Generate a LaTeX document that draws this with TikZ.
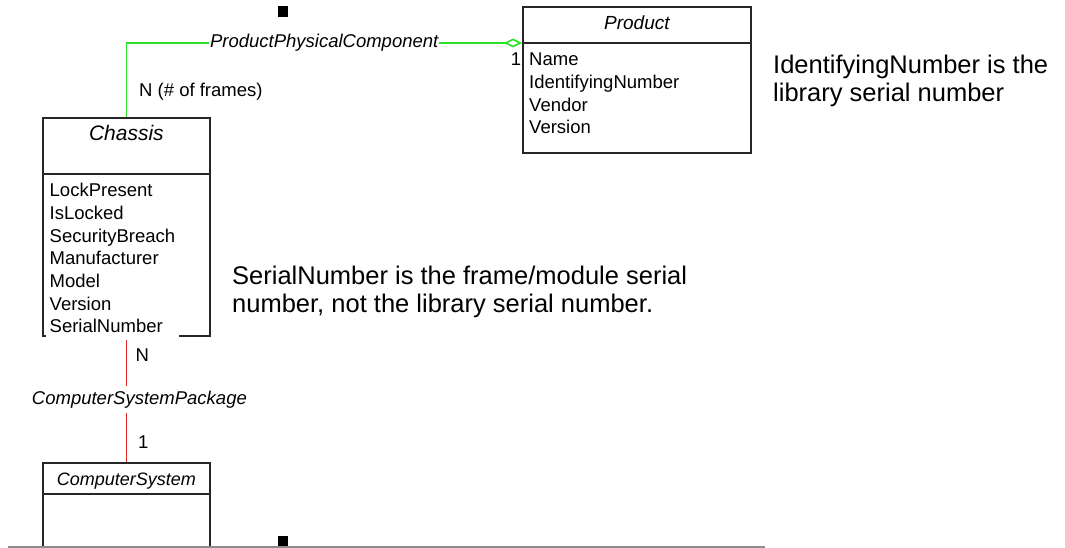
\documentclass[tikz,border=0pt]{standalone}
\usepackage{fontspec}
\setmainfont{Liberation Sans}
\usetikzlibrary{arrows.meta,positioning}
\definecolor{linkgreen}{RGB}{40,225,40}
\definecolor{linkred}{RGB}{225,40,40}

\begin{document}
\begin{tikzpicture}[x=1pt, y=-1pt,
    classbox/.style={draw=black!85, line width=1.8pt, rectangle, inner sep=0pt, anchor=north west},
    divider/.style={draw=black!85, line width=1.8pt},
    classname/.style={font=\fontsize{#1}{#1}\selectfont\itshape, inner sep=0pt, text depth=0pt},
    attr/.style={font=\fontsize{18.5}{18.5}\selectfont, inner sep=0pt, text height=13.5pt, text depth=4.5pt},
    assoc/.style={font=\fontsize{18.5}{18.5}\selectfont\itshape, fill=white, inner xsep=1pt, inner ysep=5pt},
    mult/.style={font=\fontsize{18.5}{18.5}\selectfont, inner sep=0pt, text height=13.2pt, text depth=0pt},
    note/.style={font=\fontsize{25.5}{27.5}\selectfont, align=left, inner sep=0pt, anchor=north west},
    handle/.style={fill=black, inner sep=0pt, minimum width=10pt, minimum height=11pt},
    aggr/.style={-{Diamond[open, length=18pt, width=9pt]}, line width=1.6pt, draw=linkgreen},
    pkg/.style={line width=1.6pt, draw=linkred}
]
\useasboundingbox (0,0) rectangle (1065,548);

% Classes
\node[classbox, minimum width=167pt, minimum height=218pt] (chassis) at (42,117) {};
\node[classbox, minimum width=228pt, minimum height=146pt] (product) at (522,6) {};
\node[classbox, below=125pt of chassis, anchor=north, minimum width=167pt, minimum height=84pt] (compsys) {};

% Compartments
\coordinate (chassis-div) at ([yshift=-57pt]chassis.north west);
\coordinate (product-div) at ([yshift=-37pt]product.north west);
\coordinate (compsys-div) at ([yshift=-32pt]compsys.north west);
\draw[divider] (chassis-div) -- ([yshift=-57pt]chassis.north east);
\draw[divider] (product-div) -- ([yshift=-37pt]product.north east);
\draw[divider] (compsys-div) -- ([yshift=-32pt]compsys.north east);

% open bottom edge of Chassis
\fill[white] ([xshift=4pt, yshift=2pt]chassis.south west) rectangle ([xshift=-32pt, yshift=-2pt]chassis.south east);

% Class names
\node[classname=21] (chassis-name) at ([yshift=-16pt]chassis.north) {Chassis};
\node[classname=19] (product-name) at ([yshift=-17pt]product.north) {Product};
\node[classname=18] (compsys-name) at ([yshift=-17pt]compsys.north) {ComputerSystem};

% Chassis attributes
\node[attr, below right=9pt and 7.5pt of chassis-div] (lockpresent) {LockPresent};
\node[attr, below right=4.3pt and 0pt of lockpresent.south west] (islocked) {IsLocked};
\node[attr, below right=4.3pt and 0pt of islocked.south west] (breach) {SecurityBreach};
\node[attr, below right=4.3pt and 0pt of breach.south west] (manufacturer) {Manufacturer};
\node[attr, below right=4.3pt and 0pt of manufacturer.south west] (model) {Model};
\node[attr, below right=4.3pt and 0pt of model.south west] (chassis-version) {Version};
\node[attr, below right=4.3pt and 0pt of chassis-version.south west] (serialnumber) {SerialNumber};

% Product attributes
\node[attr, below right=9pt and 7pt of product-div] (name) {Name};
\node[attr, below right=4.3pt and 0pt of name.south west] (idnumber) {IdentifyingNumber};
\node[attr, below right=4.3pt and 0pt of idnumber.south west] (vendor) {Vendor};
\node[attr, below right=4.3pt and 0pt of vendor.south west] (product-version) {Version};

% Associations
\draw[aggr] (chassis.north) |- (product-div)
    node[assoc, pos=0.75] (ppc-label) {ProductPhysicalComponent}
    node[mult, pos=0.18, right=12pt] (ppc-n) {N (\# of frames)}
    node[mult, pos=1, anchor=north east, yshift=-8.4pt] (ppc-one) {1};
\draw[pkg, shorten <=3pt] (chassis.south) -- (compsys.north)
    node[assoc, midway, xshift=13pt] (csp-label) {ComputerSystemPackage}
    node[mult, pos=0.144, right=8.5pt] (csp-n) {N}
    node[mult, pos=0.84, right=11pt] (csp-one) {1};

% Notes
\node[note] (id-note) at (773,55) {IdentifyingNumber is the\\library serial number};
\node[note] (serial-note) at (232,266) {SerialNumber is the frame/module serial\\number, not the library serial number.};

% Handles and page edge
\node[handle] (handle-top) at (283,11.5) {};
\node[handle] (handle-bottom) at (283,541.5) {};
\draw[black!45, line width=1.5pt] (8,547) -- (765,547);

\end{tikzpicture}
\end{document}
